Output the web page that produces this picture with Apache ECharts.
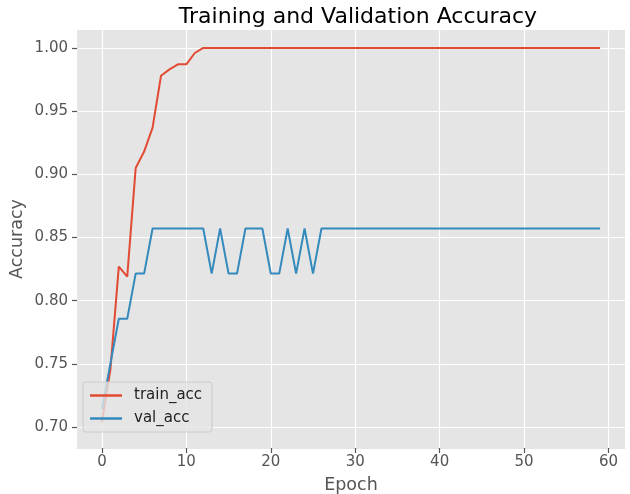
<!DOCTYPE html>
<html>
<head>
<meta charset="utf-8">
<script src="https://cdn.jsdelivr.net/npm/echarts@6/dist/echarts.min.js"></script>
<style>
  html, body { margin: 0; padding: 0; background: #fff; }
  #chart { width: 630px; height: 494px; }
</style>
</head>
<body>
<div id="chart"></div>
<script>
const epochs = Array.from({ length: 60 }, (_, i) => i);

const trainAcc = [
  0.704, 0.745, 0.827, 0.819, 0.905, 0.918, 0.937, 0.978, 0.983, 0.987,
  0.987, 0.996, 1.0, 1.0, 1.0, 1.0, 1.0, 1.0, 1.0, 1.0,
  1.0, 1.0, 1.0, 1.0, 1.0, 1.0, 1.0, 1.0, 1.0, 1.0,
  1.0, 1.0, 1.0, 1.0, 1.0, 1.0, 1.0, 1.0, 1.0, 1.0,
  1.0, 1.0, 1.0, 1.0, 1.0, 1.0, 1.0, 1.0, 1.0, 1.0,
  1.0, 1.0, 1.0, 1.0, 1.0, 1.0, 1.0, 1.0, 1.0, 1.0
];

const valAcc = [
  0.7143, 0.75, 0.7857, 0.7857, 0.8214, 0.8214, 0.8571, 0.8571, 0.8571, 0.8571,
  0.8571, 0.8571, 0.8571, 0.8214, 0.8571, 0.8214, 0.8214, 0.8571, 0.8571, 0.8571,
  0.8214, 0.8214, 0.8571, 0.8214, 0.8571, 0.8214, 0.8571, 0.8571, 0.8571, 0.8571,
  0.8571, 0.8571, 0.8571, 0.8571, 0.8571, 0.8571, 0.8571, 0.8571, 0.8571, 0.8571,
  0.8571, 0.8571, 0.8571, 0.8571, 0.8571, 0.8571, 0.8571, 0.8571, 0.8571, 0.8571,
  0.8571, 0.8571, 0.8571, 0.8571, 0.8571, 0.8571, 0.8571, 0.8571, 0.8571, 0.8571
];

const xTicks = [0, 10, 20, 30, 40, 50, 60];
const yTicks = [0.70, 0.75, 0.80, 0.85, 0.90, 0.95, 1.00];

const FONT = 'DejaVu Sans';
const chart = echarts.init(document.getElementById('chart'));

// spine coloured like the plot face so only the outward ticks show
const spine = { show: true, onZero: false, lineStyle: { color: '#E5E5E5', width: 1 } };

chart.setOption({
  animation: false,
  textStyle: { fontFamily: FONT },
  title: {
    text: 'Training and Validation Accuracy',
    left: 353,
    textAlign: 'center',
    top: 1,
    textStyle: { fontFamily: FONT, fontSize: 22, fontWeight: 'normal', color: '#000' }
  },
  legend: {
    orient: 'vertical',
    left: 83,
    top: 382,
    padding: [6, 10, 6, 7],
    itemGap: 8,
    itemWidth: 32,
    itemHeight: 2.5,
    icon: 'rect',
    backgroundColor: 'rgba(229,229,229,0.8)',
    borderColor: '#cccccc',
    borderWidth: 1,
    borderRadius: 3,
    textStyle: { fontFamily: FONT, fontSize: 15, color: '#222', padding: [0, 0, 0, 7] },
    data: ['train_acc', 'val_acc']
  },
  grid: {
    left: 77, right: 5, top: 30, bottom: 46,
    outerBoundsMode: 'none',
    show: true,
    backgroundColor: '#E5E5E5',
    borderWidth: 0
  },
  xAxis: {
    type: 'value',
    min: -2.95,
    max: 61.95,
    name: 'Epoch',
    nameLocation: 'middle',
    nameGap: 28,
    nameMoveOverlap: false,
    nameTextStyle: { fontFamily: FONT, fontSize: 17.5, color: '#555' },
    axisLine: spine,
    axisTick: { show: true, length: 5, customValues: xTicks, lineStyle: { color: '#555555', width: 1.2 } },
    axisLabel: { customValues: xTicks, fontFamily: FONT, fontSize: 15, color: '#555', margin: 7 },
    splitLine: { show: true, lineStyle: { color: '#fff', width: 1.2 } }
  },
  yAxis: {
    type: 'value',
    min: 0.6834,
    max: 1.0142,
    name: 'Accuracy',
    nameLocation: 'middle',
    nameGap: 51,
    nameMoveOverlap: false,
    nameTextStyle: { fontFamily: FONT, fontSize: 17.5, color: '#555' },
    axisLine: spine,
    axisTick: { show: true, length: 5, customValues: yTicks, lineStyle: { color: '#555555', width: 1.2 } },
    axisLabel: {
      customValues: yTicks, fontFamily: FONT, fontSize: 15, color: '#555', margin: 9,
      formatter: v => v.toFixed(2)
    },
    splitLine: { show: true, lineStyle: { color: '#fff', width: 1.2 } }
  },
  series: [
    {
      name: 'train_acc',
      type: 'line',
      data: epochs.map((e, i) => [e, trainAcc[i]]),
      symbol: 'none',
      color: '#E24A33',
      lineStyle: { color: '#E24A33', width: 2 },
      z: 2
    },
    {
      name: 'val_acc',
      type: 'line',
      data: epochs.map((e, i) => [e, valAcc[i]]),
      symbol: 'none',
      color: '#348ABD',
      lineStyle: { color: '#348ABD', width: 2 },
      z: 3
    }
  ]
});
</script>
</body>
</html>
